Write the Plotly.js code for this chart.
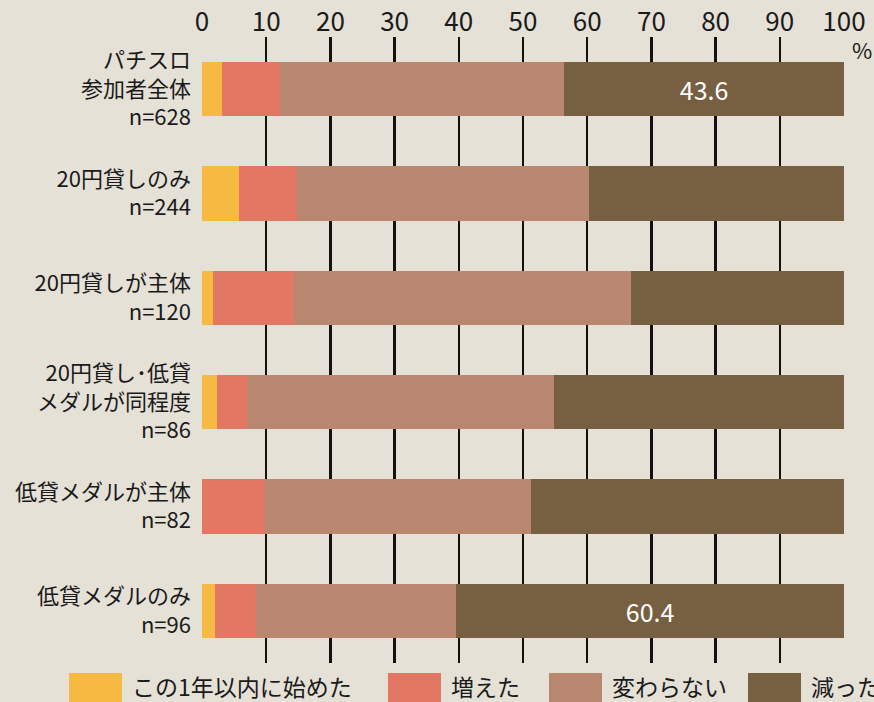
<!DOCTYPE html>
<html>
<head>
<meta charset="utf-8">
<script src="https://cdn.plot.ly/plotly-3.0.1.min.js"></script>
<style>
  html, body { margin: 0; padding: 0; background: #e5e1d7; }
  #chart { width: 874px; height: 702px; }
</style>
</head>
<body>
<div id="chart"></div>
<script>
// ---- data ----
const categories = [
  'パチスロ<br>参加者全体<br>n=628',
  '20円貸しのみ<br>n=244',
  '20円貸しが主体<br>n=120',
  '20円貸し･低貸<br>メダルが同程度<br>n=86',
  '低貸メダルが主体<br>n=82',
  '低貸メダルのみ<br>n=96'
];
const seriesNames = ['この1年以内に始めた', '増えた', '変わらない', '減った'];
const startedThisYear = [3.1, 5.7, 1.7, 2.3, 0.0, 2.1];
const increased       = [9.0, 9.1, 12.6, 4.7, 9.8, 6.3];
const unchanged       = [44.3, 45.5, 52.5, 47.8, 41.5, 31.2];
const decreased       = [43.6, 39.7, 33.2, 45.2, 48.7, 60.4];
const decreasedLabels = ['43.6', '', '', '', '', '60.4'];
const tickVals = [0, 10, 20, 30, 40, 50, 60, 70, 80, 90, 100];

const colors = ['#f6b941', '#e27863', '#b9876f', '#775f41'];
const FONT = '"Noto Sans CJK JP", "Noto Sans", sans-serif';

const values = [startedThisYear, increased, unchanged, decreased];
const traces = values.map((v, i) => ({
  type: 'bar',
  orientation: 'h',
  name: seriesNames[i],
  y: categories,
  x: v,
  marker: { color: colors[i], line: { width: 0 } },
  text: i === 3 ? decreasedLabels : undefined,
  texttemplate: i === 3 ? '%{text}' : undefined,
  textposition: i === 3 ? 'inside' : 'none',
  insidetextanchor: 'middle',
  textfont: { color: '#ffffff', size: 25, family: FONT },
  hoverinfo: 'x+name',
  showlegend: false
}));

// legend built from series names/colors (paper coords relative to plot area 202..844, 37..663)
const L = 202, W = 642, T = 37, H = 626;
const px = x => (x - L) / W;
const py = y => (T + H - y) / H;
const legendX = [69, 388, 549, 748];
const shapes = seriesNames.map((n, i) => ({
  type: 'rect', xref: 'paper', yref: 'paper',
  x0: px(legendX[i]), x1: px(legendX[i] + 53),
  y0: py(710), y1: py(673),
  fillcolor: colors[i], line: { width: 0 }
}));
const annotations = seriesNames.map((n, i) => ({
  xref: 'paper', yref: 'paper',
  x: px(legendX[i] + 61), y: py(686),
  xanchor: 'left', yanchor: 'middle',
  text: n, showarrow: false,
  font: { size: 23, color: '#1a1a1a', family: FONT }
}));
annotations.push({
  xref: 'paper', yref: 'paper',
  x: px(850), y: py(49),
  xanchor: 'left', yanchor: 'middle',
  text: '%', showarrow: false,
  font: { size: 22, color: '#1a1a1a', family: FONT }
});

const layout = {
  width: 874, height: 702,
  paper_bgcolor: '#e5e1d7',
  plot_bgcolor: '#e5e1d7',
  margin: { l: L, r: 874 - L - W, t: T, b: 702 - T - H },
  barmode: 'stack',
  bargap: 0.48,
  font: { family: FONT, color: '#1a1a1a' },
  xaxis: {
    side: 'top',
    range: [0, 100],
    tickvals: tickVals,
    ticktext: tickVals.map(String),
    tickfont: { size: 26, family: FONT, color: '#1a1a1a' },
    showgrid: true, gridcolor: '#111111', gridwidth: 2.5,
    zeroline: false, showline: false,
    ticks: '', ticklabelstandoff: 0,
    fixedrange: true
  },
  yaxis: {
    autorange: 'reversed',
    tickfont: { size: 22, family: FONT, color: '#1a1a1a' },
    showgrid: false, zeroline: false, showline: false,
    ticks: '', ticklabelstandoff: 10,
    fixedrange: true
  },
  shapes: shapes,
  annotations: annotations,
  showlegend: false
};

Plotly.newPlot('chart', traces, layout, { displayModeBar: false, staticPlot: true });
</script>
</body>
</html>
